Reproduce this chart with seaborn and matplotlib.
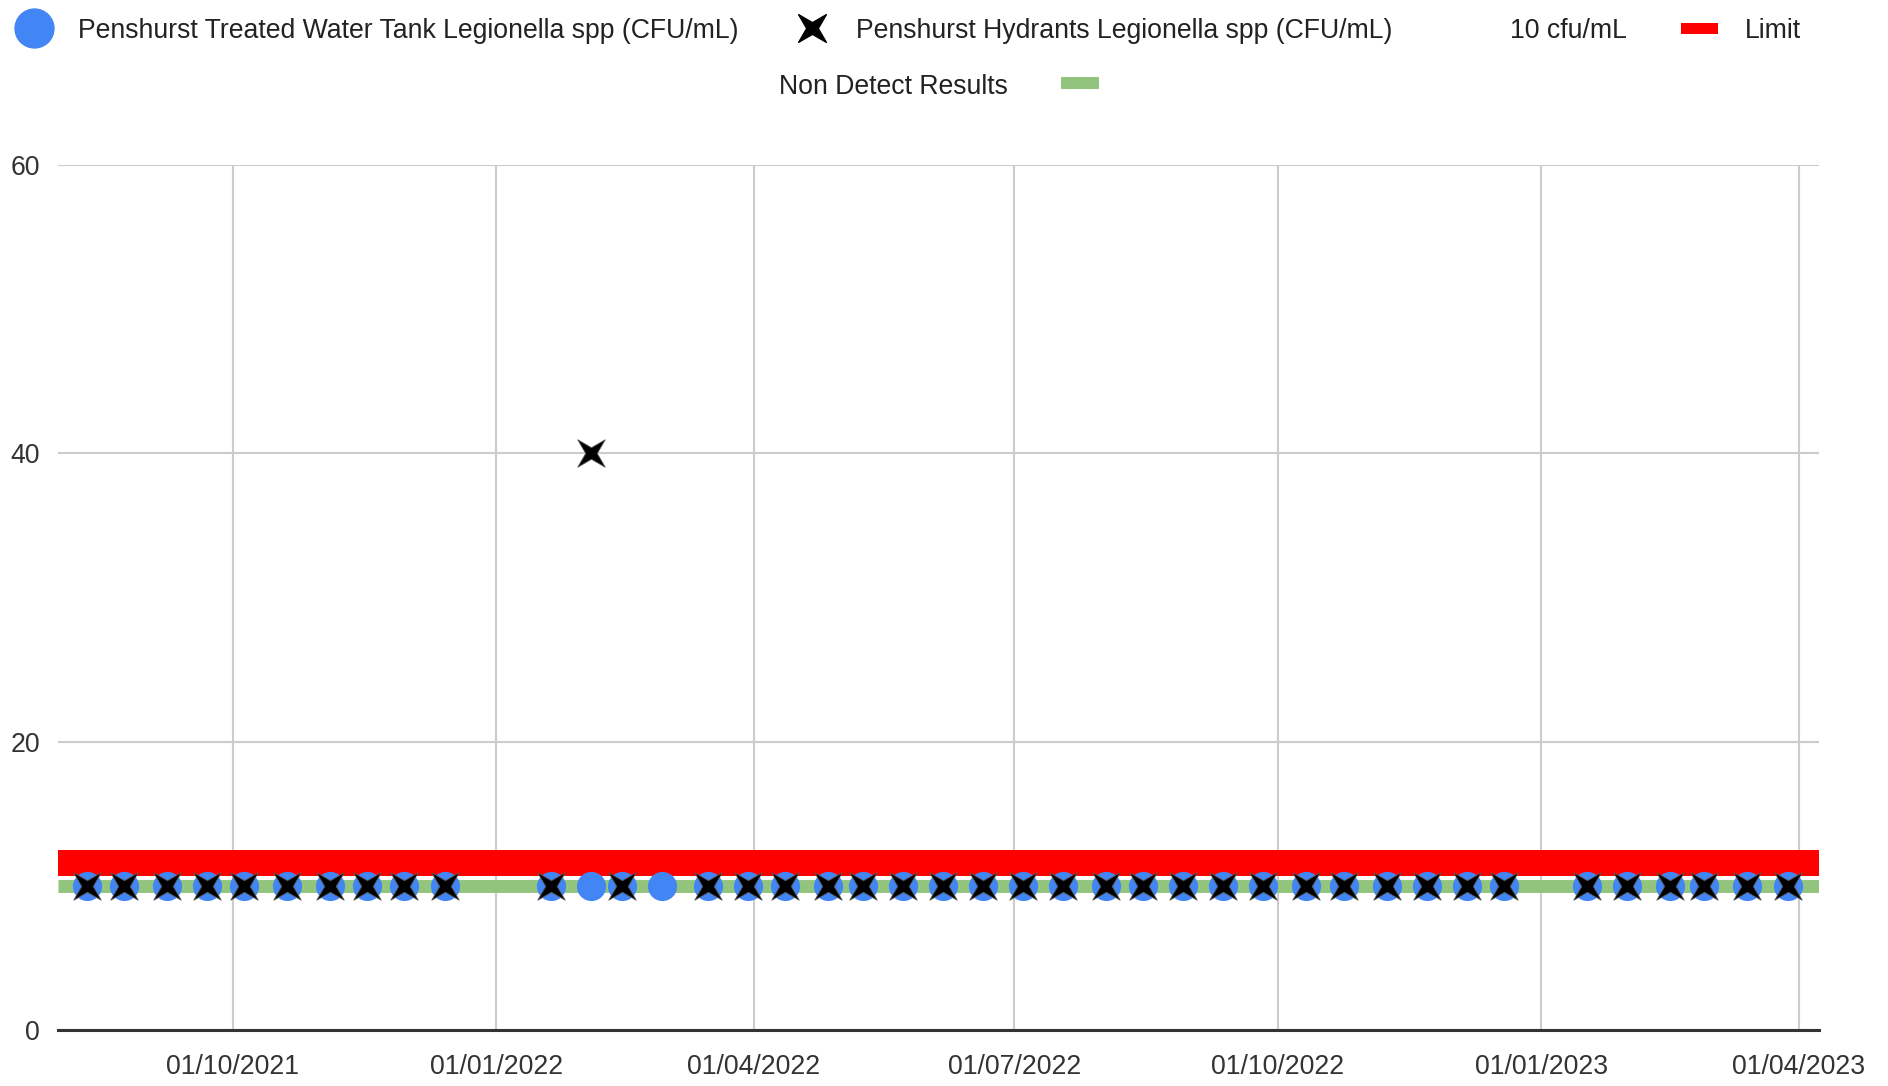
import numpy as np
import pandas as pd
import matplotlib
matplotlib.use("Agg")
import matplotlib.pyplot as plt
import matplotlib.dates as mdates
from matplotlib.path import Path
from matplotlib.lines import Line2D
from matplotlib.patches import Rectangle
from matplotlib import font_manager
import seaborn as sns

# ---------------- data ----------------
tank_dates = [
    "2021-08-11", "2021-08-24", "2021-09-08", "2021-09-22", "2021-10-05", "2021-10-20",
    "2021-11-04", "2021-11-17", "2021-11-30", "2021-12-14",
    "2022-01-20", "2022-02-03", "2022-02-14", "2022-02-28", "2022-03-16", "2022-03-30",
    "2022-04-12", "2022-04-27", "2022-05-09", "2022-05-23", "2022-06-06", "2022-06-20",
    "2022-07-04", "2022-07-18", "2022-08-02", "2022-08-15", "2022-08-29", "2022-09-12",
    "2022-09-26", "2022-10-11", "2022-10-24", "2022-11-08", "2022-11-22", "2022-12-06",
    "2022-12-19",
    "2023-01-17", "2023-01-31", "2023-02-15", "2023-02-27", "2023-03-14", "2023-03-28",
]
tank_values = [10] * len(tank_dates)

hydrant_dates = [
    "2021-08-11", "2021-08-24", "2021-09-08", "2021-09-22", "2021-10-05", "2021-10-20",
    "2021-11-04", "2021-11-17", "2021-11-30", "2021-12-14",
    "2022-01-20", "2022-02-03", "2022-02-14", "2022-03-16", "2022-03-30",
    "2022-04-12", "2022-04-27", "2022-05-09", "2022-05-23", "2022-06-06", "2022-06-20",
    "2022-07-04", "2022-07-18", "2022-08-02", "2022-08-15", "2022-08-29", "2022-09-12",
    "2022-09-26", "2022-10-11", "2022-10-24", "2022-11-08", "2022-11-22", "2022-12-06",
    "2022-12-19",
    "2023-01-17", "2023-01-31", "2023-02-15", "2023-02-27", "2023-03-14", "2023-03-28",
]
hydrant_values = [10] * len(hydrant_dates)
hydrant_values[hydrant_dates.index("2022-02-03")] = 40

range_dates = ["2021-08-01", "2023-04-08"]
limit_values = [11.6, 11.6]
nondetect_values = [10, 10]

y_ticks = [0, 20, 40, 60]
tick_dates = ["2021-10-01", "2022-01-01", "2022-04-01", "2022-07-01",
              "2022-10-01", "2023-01-01", "2023-04-01"]

legend_tank = "Penshurst Treated Water Tank Legionella spp (CFU/mL)"
legend_hydrant = "Penshurst Hydrants Legionella spp (CFU/mL)"
legend_10 = "10 cfu/mL"
legend_limit = "Limit"
legend_nd = "Non Detect Results"

# ---------------- style ----------------
sns.set_style("white")
names = {f.name for f in font_manager.fontManager.ttflist}
if "Liberation Sans Narrow" in names:
    FAM = ["Liberation Sans Narrow", "DejaVu Sans"]
    FS = 23.4
else:
    FAM = ["Liberation Sans", "DejaVu Sans"]
    FS = 19.2
plt.rcParams["font.family"] = FAM

W, H = 1888, 1086
fig = plt.figure(figsize=(W / 100, H / 100), dpi=100)
L, R, T, B = 58, 1819, 165, 1030
ax = fig.add_axes([L / W, 1 - B / H, (R - L) / W, (B - T) / H])

df_tank = pd.DataFrame({"date": pd.to_datetime(tank_dates), "value": tank_values})
df_hyd = pd.DataFrame({"date": pd.to_datetime(hydrant_dates), "value": hydrant_values})
df_lim = pd.DataFrame({"date": pd.to_datetime(range_dates), "value": limit_values})
df_nd = pd.DataFrame({"date": pd.to_datetime(range_dates), "value": nondetect_values})

# four-point pinched star marker (Google "x")
def star_x(inner=0.42):
    verts = []
    for k in range(4):
        a = np.deg2rad(45 + 90 * k)
        verts.append((np.cos(a) * np.sqrt(2), np.sin(a) * np.sqrt(2)))
        b = np.deg2rad(90 + 90 * k)
        verts.append((np.cos(b) * inner, np.sin(b) * inner))
    verts.append(verts[0])
    codes = [Path.MOVETO] + [Path.LINETO] * 7 + [Path.CLOSEPOLY]
    return Path(verts, codes)

XM = star_x()

sns.lineplot(data=df_lim, x="date", y="value", color="#ff0000", linewidth=18.7,
             solid_capstyle="butt", ax=ax, legend=False, zorder=2)
sns.lineplot(data=df_nd, x="date", y="value", color="#93c47d", linewidth=9.3,
             solid_capstyle="butt", ax=ax, legend=False, zorder=2)
sns.scatterplot(data=df_tank, x="date", y="value", color="#4285f4", s=440,
                linewidth=0, ax=ax, zorder=3, legend=False)
sns.scatterplot(data=df_hyd, x="date", y="value", color="black", marker=XM, s=390,
                linewidth=0.6, edgecolor="#555555", ax=ax, zorder=4, legend=False)

ax.set_xlim(pd.Timestamp(range_dates[0]), pd.Timestamp(range_dates[1]))
ax.set_ylim(0, 60)
ax.set_yticks(y_ticks)
ax.set_xticks(pd.to_datetime(tick_dates))
ax.xaxis.set_major_formatter(mdates.DateFormatter("%d/%m/%Y"))
ax.set_xlabel("")
ax.set_ylabel("")
ax.grid(True, color="#cccccc", linewidth=1.5, zorder=0)
ax.set_axisbelow(True)
for s in ["top", "right", "left"]:
    ax.spines[s].set_visible(False)
ax.spines["bottom"].set_color("#333333")
ax.spines["bottom"].set_linewidth(2.2)
ax.spines["bottom"].set_zorder(5)
ax.tick_params(axis="x", length=0, pad=17, labelsize=FS, labelcolor="#333333")
ax.tick_params(axis="y", length=0, pad=13, labelsize=FS, labelcolor="#333333")

# ---------------- legend (manual, Google-Charts style) ----------------
def fx(x):
    return x / W

def fy(y):
    return 1 - y / H

tc = "#222222"
row1, row2 = 38, 94
fig.add_artist(Line2D([fx(34)], [fy(28)], marker="o", markersize=28, color="#4285f4",
                      linestyle="none", transform=fig.transFigure))
fig.text(fx(78), fy(row1), legend_tank, fontsize=FS, color=tc, va="baseline", ha="left")
fig.add_artist(Line2D([fx(812)], [fy(28)], marker=XM, markersize=20, color="black",
                      linestyle="none", transform=fig.transFigure))
fig.text(fx(856), fy(row1), legend_hydrant, fontsize=FS, color=tc, va="baseline", ha="left")
fig.text(fx(1510), fy(row1), legend_10, fontsize=FS, color=tc, va="baseline", ha="left")
fig.add_artist(Rectangle((fx(1681), fy(34)), fx(37), 11 / H, facecolor="#ff0000",
                         edgecolor="none", transform=fig.transFigure))
fig.text(fx(1745), fy(row1), legend_limit, fontsize=FS, color=tc, va="baseline", ha="left")
fig.text(fx(779), fy(row2), legend_nd, fontsize=FS, color=tc, va="baseline", ha="left")
fig.add_artist(Rectangle((fx(1061), fy(89)), fx(38), 12 / H, facecolor="#93c47d",
                         edgecolor="none", transform=fig.transFigure))

fig.savefig("out.png", dpi=100, facecolor="white")
